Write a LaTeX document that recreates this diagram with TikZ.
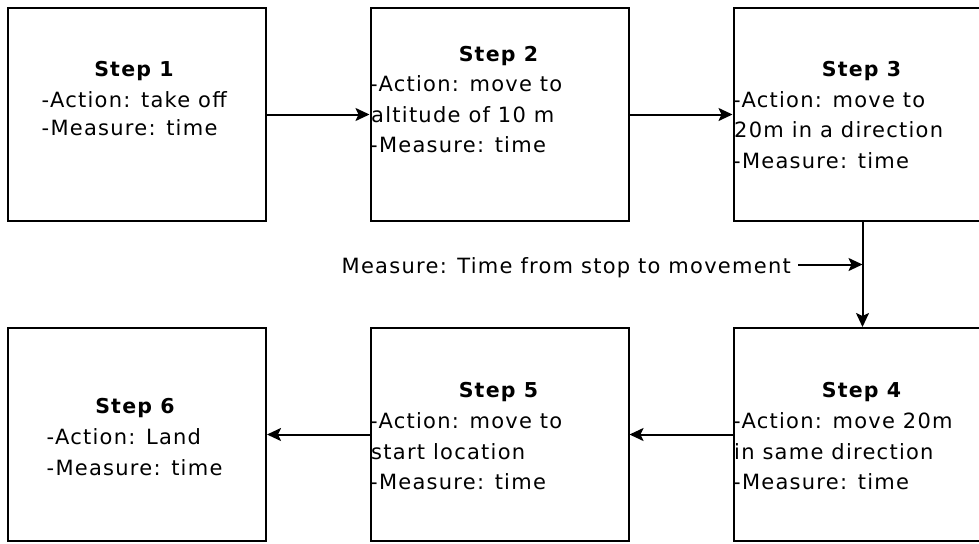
\documentclass[tikz,border=0pt]{standalone}
\usepackage{fontspec}
\setmainfont{DejaVu Sans}[LetterSpace=6]
\usetikzlibrary{arrows.meta}
\begin{document}
\begin{tikzpicture}[x=1pt,y=-1pt,
  stepbox/.style={draw=black,line width=2pt,minimum width=258pt,minimum height=213pt,inner sep=0pt},
  steptitle/.style={anchor=base,inner sep=0pt,font=\fontsize{20.5}{28}\selectfont\bfseries},
  stepline/.style={anchor=base west,inner sep=0pt,font=\fontsize{21}{28}\selectfont},
  flow/.style={line width=2pt,-{Stealth[length=14pt,width=13pt,inset=3pt]}}]
\clip (0,0) rectangle (979,543);
\fill[white] (0,0) rectangle (979,543);

% the six step boxes
\node[stepbox] (s1) at (137,114.5) {};
\node[stepbox] (s2) at (499.5,114.5) {};
\node[stepbox] (s3) at (862.5,114.5) {};
\node[stepbox] (s4) at (862.5,434.5) {};
\node[stepbox] (s5) at (499.5,434.5) {};
\node[stepbox] (s6) at (137,434.5) {};

% step 1
\node[steptitle] (s1t) at (134,77) {Step 1};
\node[stepline] (s1a) at (41.5,107) {-Action: take off};
\node[stepline] (s1b) at (41.5,135) {-Measure: time};

% step 2
\node[steptitle] (s2t) at (498.5,62) {Step 2};
\node[stepline] (s2a) at (370,92) {-Action: move to};
\node[stepline] (s2b) at (371,122) {altitude of 10 m};
\node[stepline] (s2c) at (370,152) {-Measure: time};

% step 3
\node[steptitle] (s3t) at (861.5,77) {Step 3};
\node[stepline] (s3a) at (733,107) {-Action: move to};
\node[stepline] (s3b) at (734,137) {20m in a direction};
\node[stepline] (s3c) at (733,168) {-Measure: time};

% step 4
\node[steptitle] (s4t) at (861.5,397) {Step 4};
\node[stepline] (s4a) at (733,428) {-Action: move 20m};
\node[stepline] (s4b) at (734,459) {in same direction};
\node[stepline] (s4c) at (733,489) {-Measure: time};

% step 5
\node[steptitle] (s5t) at (498.5,397) {Step 5};
\node[stepline] (s5a) at (370,428) {-Action: move to};
\node[stepline] (s5b) at (371,459) {start location};
\node[stepline] (s5c) at (370,489) {-Measure: time};

% step 6
\node[steptitle] (s6t) at (135,413) {Step 6};
\node[stepline] (s6a) at (46.5,444) {-Action: Land};
\node[stepline] (s6b) at (46.5,475) {-Measure: time};

% flow between the steps
\draw[flow] (s1) -- (s2);
\draw[flow] (s2) -- (s3);
\draw[flow] (s3.south) -- (s4.north);
\draw[flow] (s4) -- (s5);
\draw[flow] (s5) -- (s6);

% measurement note pointing at the vertical connector
\node[stepline] (lbl) at (341.5,273) {Measure: Time from stop to movement};
\coordinate (tap) at (s3.south |- 0,264.5);
\coordinate (tail) at (798,264.5);
\draw[flow] (tail) -- (tap);
\end{tikzpicture}
\end{document}
